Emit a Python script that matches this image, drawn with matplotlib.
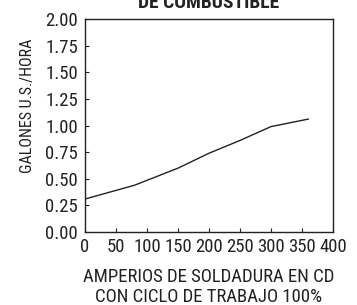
import matplotlib
matplotlib.use("Agg")
import matplotlib.pyplot as plt

plt.rcParams['font.family'] = ['Roboto Condensed', 'Archivo Narrow', 'Liberation Sans', 'DejaVu Sans']

# fuel consumption curve
amps = [0, 80, 150, 200, 250, 300, 360]
gal_hr = [0.31, 0.44, 0.60, 0.74, 0.86, 0.99, 1.06]

xticks = [0, 50, 100, 150, 200, 250, 300, 350, 400]
yticks = [0.00, 0.25, 0.50, 0.75, 1.00, 1.25, 1.50, 1.75, 2.00]

fig = plt.figure(figsize=(3.57, 3.05), dpi=100)
ax = fig.add_axes([0.238, 0.239, 0.695, 0.699])

ax.plot(amps, gal_hr, color='#222222', linewidth=1.0)

ax.set_xlim(0, 400)
ax.set_ylim(0, 2.0)
ax.set_xticks(xticks)
ax.set_yticks(yticks)
ax.set_yticklabels([f'{v:.2f}' for v in yticks])
ax.tick_params(direction='in', length=3, labelsize=13.5, width=0.8, colors='#222222')
ax.tick_params(axis='x', pad=4)
ax.tick_params(axis='y', pad=5)
for s in ax.spines.values():
    s.set_linewidth(1.0)
    s.set_color('#222222')

fig.text(0.585, 0.12, 'AMPERIOS DE SOLDADURA EN CD\nCON CICLO DE TRABAJO 100%',
         fontsize=13.5, ha='center', va='top', linespacing=1.1, color='#222222')
fig.text(0.076, 0.652, 'GALONES U.S./HORA', fontsize=11.5, rotation=90,
         ha='center', va='center', color='#222222')
fig.text(0.583, 0.961, 'CONSUMO\nDE COMBUSTIBLE', fontsize=14, fontweight='bold',
         ha='center', va='bottom', linespacing=1.05, color='#222222')

fig.savefig('out.png', dpi=100)
